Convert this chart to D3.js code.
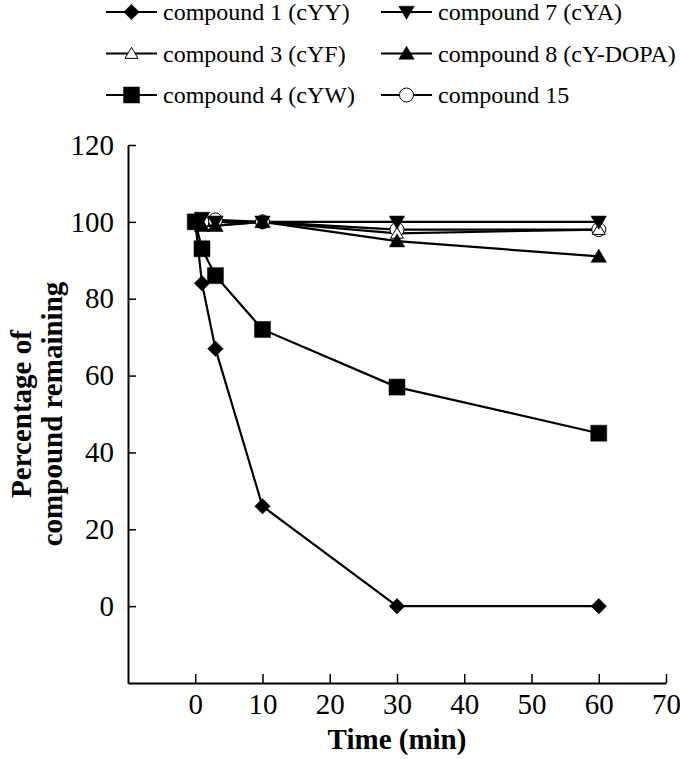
<!DOCTYPE html>
<html><head><meta charset="utf-8">
<script src="https://cdn.jsdelivr.net/npm/d3@7/dist/d3.min.js"></script>
<style>body{margin:0;background:#fff}svg{display:block;font-family:"Liberation Serif","Times New Roman",Times,serif}</style>
</head><body>
<svg id="chart" width="680" height="759"></svg>
<script>
const times = [0, 1, 3, 10, 30, 60];
const cYY = [100, 84, 67, 26, 0, 0];
const cYF = [100, 99, 99, 100, 97, 98];
const cYW = [100, 93, 86, 72, 57, 45];
const cYA = [100, 101, 100, 100, 100, 100];
const cYDOPA = [100, 99, 99, 100, 95, 91];
const c15 = [100, 100, 100.5, 100, 98, 98];
const seriesNames = ["compound 1 (cYY)", "compound 3 (cYF)", "compound 4 (cYW)", "compound 7 (cYA)", "compound 8 (cY-DOPA)", "compound 15"];
const xTicks = [0, 10, 20, 30, 40, 50, 60, 70];
const yTicks = [0, 20, 40, 60, 80, 100, 120];

const series = [
  {name: seriesNames[0], values: cYY, shape: "diamond", filled: true},
  {name: seriesNames[1], values: cYF, shape: "triangle", filled: false},
  {name: seriesNames[2], values: cYW, shape: "square", filled: true},
  {name: seriesNames[3], values: cYA, shape: "triangleDown", filled: true},
  {name: seriesNames[4], values: cYDOPA, shape: "triangle", filled: true},
  {name: seriesNames[5], values: c15, shape: "circle", filled: false}
];

const svg = d3.select("#chart");
const x = d3.scaleLinear().domain([-10, 70]).range([128, 666]);
const y = d3.scaleLinear().domain([-20, 120]).range([683, 145]);
const serif = "Liberation Serif, Times New Roman, Times, serif";

function markerPath(shape, s) {
  const h = s / 2;
  if (shape === "diamond") return `M0,${-h}L${h},0L0,${h}L${-h},0Z`;
  if (shape === "square") return `M${-h},${-h}H${h}V${h}H${-h}Z`;
  if (shape === "triangle") return `M0,${-h*0.95}L${h},${h*0.75}L${-h},${h*0.75}Z`;
  if (shape === "triangleDown") return `M0,${h*0.95}L${h},${-h*0.75}L${-h},${-h*0.75}Z`;
  return null;
}
function drawMarker(g, shape, filled, cx, cy, size) {
  if (shape === "circle") {
    g.append("circle").attr("cx", cx).attr("cy", cy).attr("r", size / 2)
      .attr("fill", "#fff").attr("stroke", "#000").attr("stroke-width", 1);
  } else {
    g.append("path").attr("d", markerPath(shape, size))
      .attr("transform", `translate(${cx},${cy})`)
      .attr("fill", filled ? "#000" : "#fff").attr("stroke", "#000")
      .attr("stroke-width", filled ? 0.5 : 1);
  }
}
function markerSize(s) {
  if (s.shape === "triangle" && !s.filled) return 13;
  if (s.shape === "circle") return 14;
  if (s.shape === "square") return 16;
  return 15.5;
}

// axes
const xAxis = d3.axisBottom(x).tickValues(xTicks).tickSize(-9).tickSizeOuter(0).tickPadding(10);
const gx = svg.append("g").attr("transform", `translate(0,${y(-20)})`).call(xAxis);
const yAxis = d3.axisLeft(y).tickValues(yTicks).tickSize(-8).tickSizeOuter(0).tickPadding(14);
const gy = svg.append("g").attr("transform", `translate(${x(-10)},0)`).call(yAxis);
[gx, gy].forEach(g => {
  g.attr("font-family", null).attr("font-size", null);
  g.select(".domain").attr("stroke", "#000").attr("stroke-width", 2);
  g.selectAll(".tick line").attr("stroke", "#000").attr("stroke-width", 1.5);
  g.selectAll(".tick text").style("font-family", serif).style("font-size", "29px").attr("fill", "#000");
});

// lines and markers
const line = d3.line().x((d, i) => x(times[i])).y(d => y(d));
const plot = svg.append("g");
series.forEach(s => {
  plot.append("path").datum(s.values).attr("d", line)
    .attr("fill", "none").attr("stroke", "#000").attr("stroke-width", 2.2);
});
const markerOrder = [5, 1, 0, 2, 4, 3];
markerOrder.forEach(si => {
  const s = series[si];
  const g = plot.append("g");
  s.values.forEach((v, i) => drawMarker(g, s.shape, s.filled, x(times[i]), y(v), markerSize(s)));
});

// legend
const legendCols = [106, 381];
const legendRows = [12, 53.5, 95];
const legendOrder = [0, 3, 1, 4, 2, 5];
legendOrder.forEach((si, k) => {
  const s = series[si];
  const lx = legendCols[k % 2], ly = legendRows[Math.floor(k / 2)];
  const g = svg.append("g");
  g.append("line").attr("x1", lx).attr("x2", lx + 51).attr("y1", ly).attr("y2", ly)
    .attr("stroke", "#000").attr("stroke-width", 2.2);
  drawMarker(g, s.shape, s.filled, lx + 25.5, ly, markerSize(s));
  g.append("text").attr("x", lx + 57).attr("y", ly).attr("dy", "0.35em")
    .style("font-family", serif).style("font-size", "24px").text(s.name);
});

// axis titles
svg.append("text").attr("x", (x(-10) + x(70)) / 2).attr("y", 749)
  .attr("text-anchor", "middle").style("font-family", serif).attr("font-weight", "bold")
  .style("font-size", "29px").text("Time (min)");
const yt = svg.append("text").attr("transform", `translate(0,${(y(-20) + y(120)) / 2}) rotate(-90)`)
  .attr("text-anchor", "middle").style("font-family", serif).attr("font-weight", "bold").style("font-size", "29px");
yt.append("tspan").attr("x", 0).attr("y", 31).text("Percentage of");
yt.append("tspan").attr("x", 0).attr("y", 62).text("compound remaining");
</script>
</body></html>
